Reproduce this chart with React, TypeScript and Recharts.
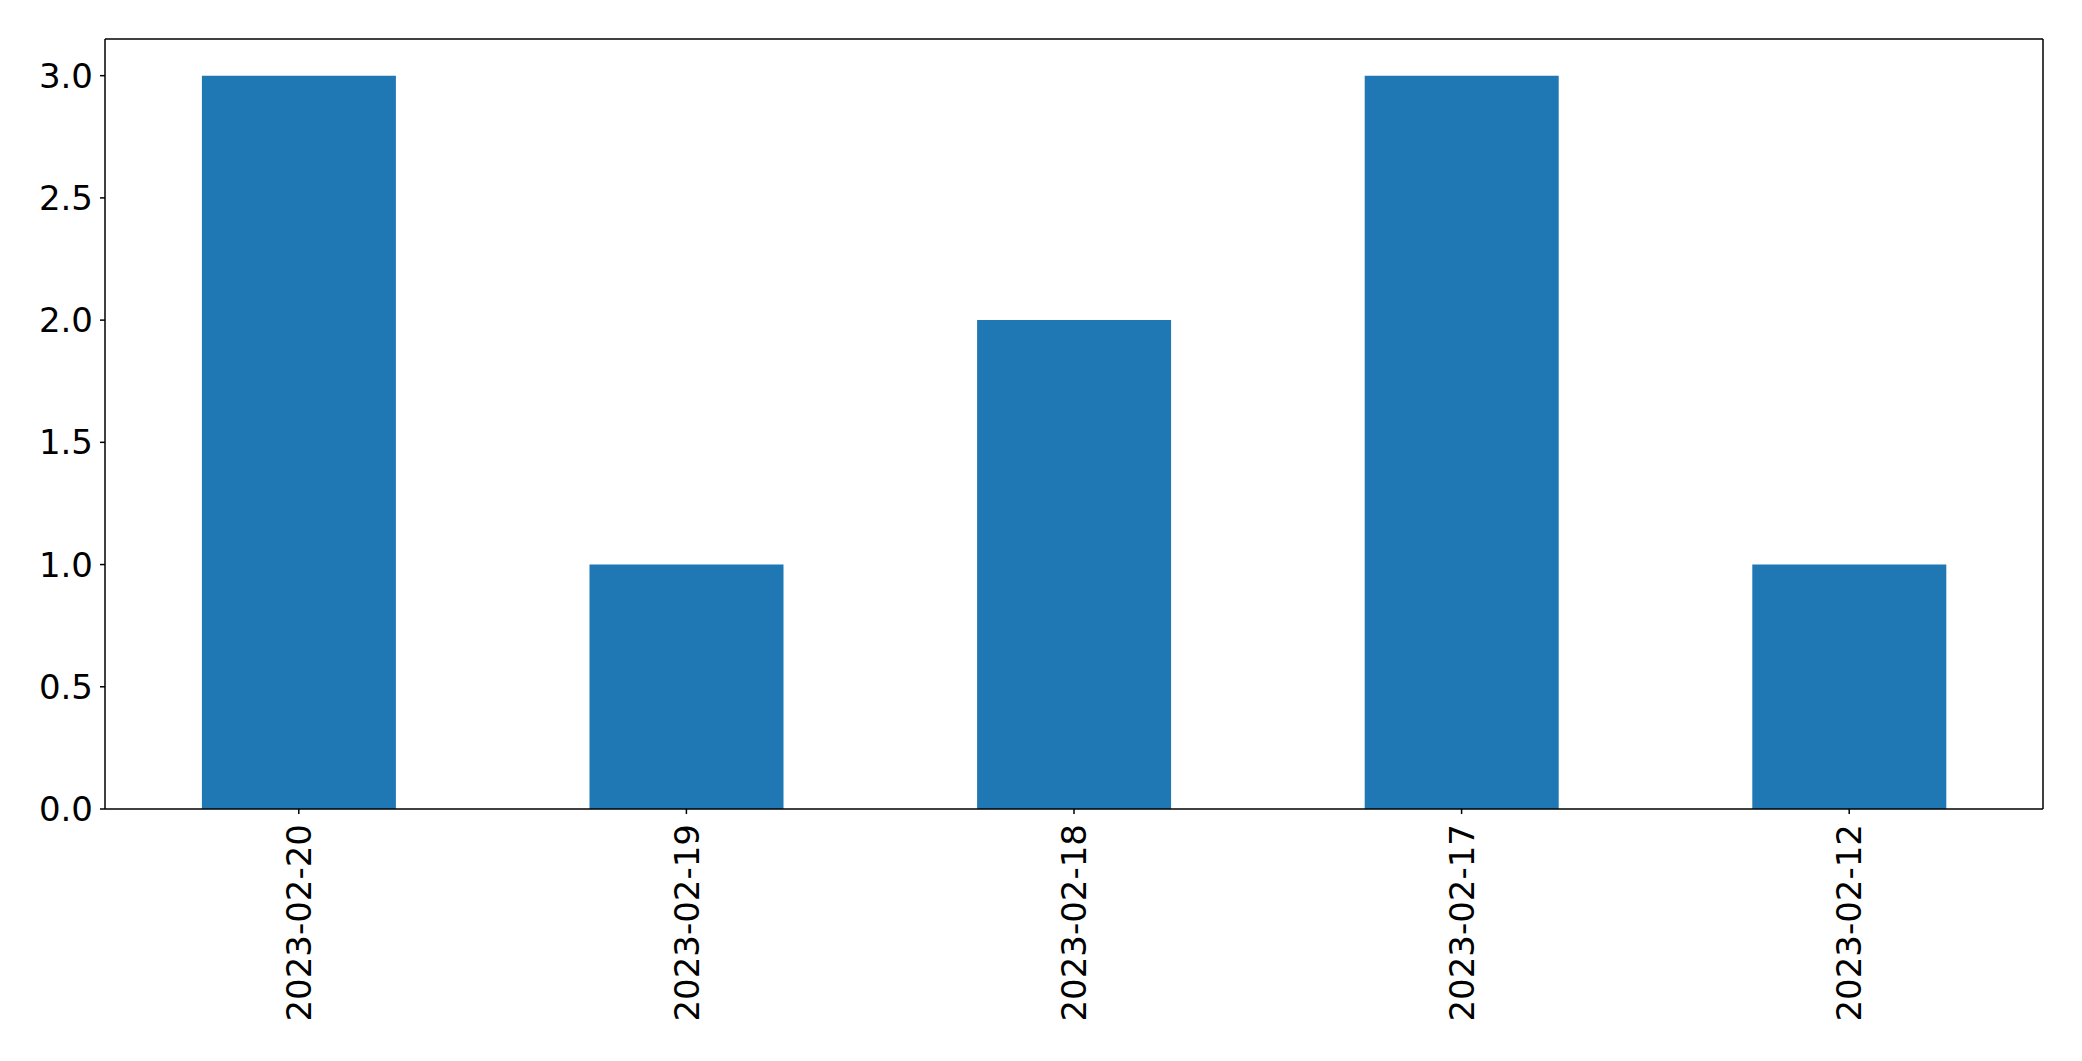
import { BarChart, Bar, XAxis, YAxis, CartesianGrid } from "recharts";

const dates = ["2023-02-20", "2023-02-19", "2023-02-18", "2023-02-17", "2023-02-12"];
const counts = [3, 1, 2, 3, 1];
const yTicks = [0, 0.5, 1, 1.5, 2, 2.5, 3];

const FONT = "'DejaVu Sans', sans-serif";
const LINE = 1.5;

const chartData = dates.map((date, i) => ({ date, count: counts[i] }));

// rotated date labels, read bottom-to-top like matplotlib's rotation=90
const DateTick = (props: any) => {
  const { x, y, payload } = props;
  return (
    <text
      x={x}
      y={y + 10}
      transform={`rotate(-90, ${x}, ${y + 10})`}
      textAnchor="end"
      dy="0.36em"
      fontFamily={FONT}
      fontSize={34}
      fill="#000"
    >
      {payload.value}
    </text>
  );
};

export default function App() {
  return (
    <div style={{ position: "absolute", left: 0, top: 0, width: 2082, height: 1061, background: "#fff" }}>
      <BarChart
        width={2082}
        height={1061}
        data={chartData}
        barCategoryGap="25%"
        margin={{ top: 39, right: 39, left: 0, bottom: 0 }}
      >
        {/* top and right frame lines of the axes box */}
        <CartesianGrid
          stroke="#000"
          strokeWidth={LINE}
          horizontalCoordinatesGenerator={({ offset }: any) => [offset.top]}
          verticalCoordinatesGenerator={({ offset }: any) => [offset.left + offset.width]}
        />
        <XAxis
          dataKey="date"
          height={252}
          interval={0}
          stroke="#000"
          tick={<DateTick />}
          tickSize={5}
          tickMargin={0}
          axisLine={{ stroke: "#000", strokeWidth: LINE }}
          tickLine={{ stroke: "#000", strokeWidth: LINE }}
        />
        <YAxis
          width={105}
          domain={[0, 3.15]}
          ticks={yTicks}
          allowDataOverflow
          stroke="#000"
          tickFormatter={(v: number) => v.toFixed(1)}
          tickSize={5}
          tickMargin={7}
          tick={{ fill: "#000", fontSize: 34, fontFamily: FONT }}
          axisLine={{ stroke: "#000", strokeWidth: LINE }}
          tickLine={{ stroke: "#000", strokeWidth: LINE }}
        />
        <Bar dataKey="count" fill="#1f77b4" isAnimationActive={false} />
      </BarChart>
    </div>
  );
}
